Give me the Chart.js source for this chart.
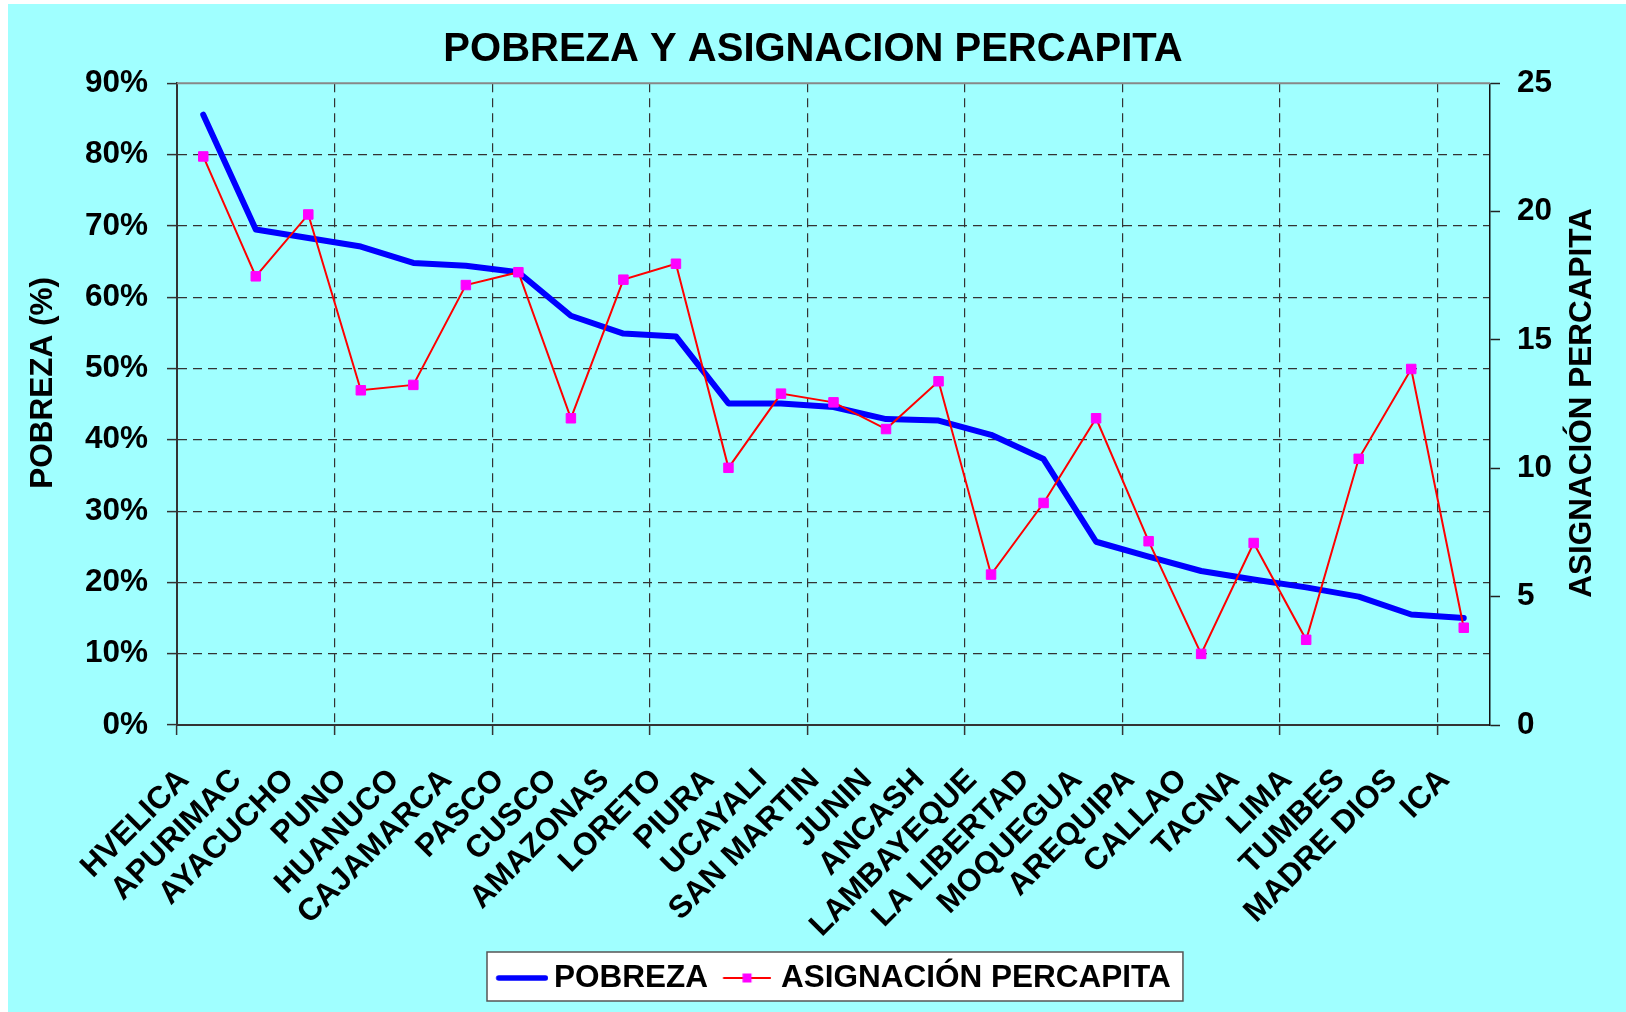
<!DOCTYPE html>
<html>
<head>
<meta charset="utf-8">
<script src="https://cdn.jsdelivr.net/npm/chart.js@4/dist/chart.umd.min.js"></script>
<style>
html,body{margin:0;padding:0;background:#fff;}
canvas{display:block;}
</style>
</head>
<body>
<canvas id="c" width="1626" height="1012"></canvas>
<script>
// ---------- DATA ----------
const categories = ['HVELICA','APURIMAC','AYACUCHO','PUNO','HUANUCO','CAJAMARCA','PASCO','CUSCO','AMAZONAS','LORETO','PIURA','UCAYALI','SAN MARTIN','JUNIN','ANCASH','LAMBAYEQUE','LA LIBERTAD','MOQUEGUA','AREQUIPA','CALLAO','TACNA','LIMA','TUMBES','MADRE DIOS','ICA'];
const pobreza = [85.6, 69.5, 68.3, 67.1, 64.8, 64.4, 63.5, 57.4, 54.9, 54.5, 45.1, 45.1, 44.6, 42.9, 42.7, 40.7, 37.3, 25.7, 23.6, 21.6, 20.4, 19.3, 18.0, 15.5, 15.0];
const asignacion = [22.15, 17.48, 19.89, 13.04, 13.25, 17.14, 17.64, 11.95, 17.35, 17.97, 10.02, 12.91, 12.57, 11.53, 13.39, 5.86, 8.65, 11.95, 7.16, 2.77, 7.09, 3.32, 10.37, 13.87, 3.79];
const seriesNames = ['POBREZA', 'ASIGNACIÓN PERCAPITA'];
const chartTitle = 'POBREZA Y ASIGNACION PERCAPITA';
const leftAxisTitle = 'POBREZA (%)';
const rightAxisTitle = 'ASIGNACIÓN PERCAPITA';
const leftAxisRange = [0, 90, 10];
const rightAxisRange = [0, 25, 5];

// ---------- STYLE ----------
const FONT = '"Liberation Sans", Arial, sans-serif';
const BG = '#A0FFFF';
const GRID = '#333';
const FS = 31.5;
const LEGEND_X = 498.25;

function makeBlueSample() {
  const c = document.createElement('canvas');
  c.width = 60; c.height = 8;
  const g = c.getContext('2d');
  g.strokeStyle = '#0000FF'; g.lineWidth = 5.5; g.lineCap = 'round';
  g.beginPath(); g.moveTo(10.5, 4); g.lineTo(57.2, 4); g.stroke();
  return c;
}
function makeMagentaSample() {
  const c = document.createElement('canvas');
  c.width = 52; c.height = 12;
  const g = c.getContext('2d');
  g.strokeStyle = '#FF0000'; g.lineWidth = 2;
  g.beginPath(); g.moveTo(3.75, 6); g.lineTo(51.75, 6); g.stroke();
  g.fillStyle = '#FF00FF';
  g.fillRect(27.75 - 4.5, 1.5, 9, 9);
  return c;
}
const sampleImgs = [makeBlueSample(), makeMagentaSample()];

const decor = {
  id: 'decor',
  afterLayout(chart) {
    const lg = chart.legend;
    if (!lg || !lg.lineWidths) return;
    const p = lg.options.labels.padding;
    const x1 = (lg.left + p + lg.right - lg.lineWidths[0]) / 2;
    const shift = LEGEND_X - x1;
    lg.left += shift; lg.right += shift;
  },
  beforeDraw(chart) {
    const ctx = chart.ctx;
    ctx.save();
    ctx.fillStyle = '#fff';
    ctx.fillRect(0, 0, chart.width, chart.height);
    ctx.fillStyle = BG;
    ctx.fillRect(8, 4, chart.width - 8, chart.height - 4);
    const lg = chart.legend;
    if (lg && lg.lineWidths) {
      const p = lg.options.labels.padding;
      const x1 = (lg.left + p + lg.right - lg.lineWidths[0]) / 2;
      const bx = x1 - 11.25;
      const bw = lg.lineWidths[0] - p + 23.5;
      ctx.fillStyle = '#fff';
      ctx.fillRect(bx, lg.top + 7, bw, 49);
      ctx.strokeStyle = '#555';
      ctx.lineWidth = 1.5;
      ctx.strokeRect(bx, lg.top + 7, bw, 49);
    }
    ctx.restore();
  },
  beforeDatasetsDraw(chart) {
    const ctx = chart.ctx, a = chart.chartArea;
    ctx.save();
    ctx.strokeStyle = '#888';
    ctx.lineWidth = 2;
    ctx.beginPath();
    ctx.moveTo(a.left, a.top); ctx.lineTo(a.right, a.top);
    ctx.stroke();
    ctx.restore();
  },
  afterDraw(chart) {
    const ctx = chart.ctx;
    ctx.save();
    ctx.fillStyle = '#000';
    ctx.font = 'bold ' + FS + 'px ' + FONT;
    ctx.textAlign = 'center';
    ctx.textBaseline = 'middle';
    ctx.translate(43, 383);
    ctx.rotate(-Math.PI / 2);
    ctx.fillText(leftAxisTitle, 0, 0);
    ctx.restore();
    ctx.save();
    ctx.fillStyle = '#000';
    ctx.font = 'bold ' + FS + 'px ' + FONT;
    ctx.textAlign = 'center';
    ctx.textBaseline = 'middle';
    ctx.translate(1582, 403);
    ctx.rotate(-Math.PI / 2);
    ctx.fillText(rightAxisTitle, 0, 0);
    ctx.restore();
  }
};

const tickFont = { family: FONT, size: FS, weight: 'bold' };

new Chart(document.getElementById('c'), {
  type: 'line',
  data: {
    labels: categories,
    datasets: [
      {
        label: seriesNames[0],
        data: pobreza,
        yAxisID: 'y',
        borderColor: '#0000FF',
        backgroundColor: '#0000FF',
        borderWidth: 6,
        borderCapStyle: 'round',
        borderJoinStyle: 'round',
        pointRadius: 0,
        pointHoverRadius: 0,
        tension: 0,
        fill: false,
        order: 1
      },
      {
        label: seriesNames[1],
        data: asignacion,
        yAxisID: 'y1',
        borderColor: '#FF0000',
        backgroundColor: '#FF00FF',
        borderWidth: 2,
        pointStyle: 'rect',
        pointRadius: 6.7,
        pointHoverRadius: 6.7,
        pointBackgroundColor: '#FF00FF',
        pointBorderColor: '#FF00FF',
        pointBorderWidth: 1,
        tension: 0,
        fill: false,
        order: 0
      }
    ]
  },
  options: {
    responsive: false,
    animation: false,
    devicePixelRatio: 1,
    events: [],
    layout: { padding: { left: 0, right: 0, top: 0, bottom: 8.25 } },
    plugins: {
      title: {
        display: true,
        text: chartTitle,
        color: '#000',
        font: { family: FONT, size: 40, weight: 'bold', lineHeight: 1.2 },
        padding: { top: 26, bottom: 9.3 }
      },
      legend: {
        display: true,
        position: 'bottom',
        labels: {
          color: '#000',
          font: { family: FONT, size: FS, weight: 'bold' },
          usePointStyle: true,
          pointStyleWidth: 40,
          padding: 17.25,
          generateLabels: () => seriesNames.map((n, i) => ({
            text: n,
            pointStyle: sampleImgs[i],
            fillStyle: 'rgba(0,0,0,0)',
            strokeStyle: 'rgba(0,0,0,0)',
            lineWidth: 0,
            hidden: false,
            datasetIndex: i,
            fontColor: '#000'
          }))
        }
      },
      tooltip: { enabled: false }
    },
    scales: {
      x: {
        type: 'category',
        offset: true,
        grid: {
          offset: true,
          drawOnChartArea: true,
          color: c => (c.index % 3 === 0 && c.index !== 0) ? GRID : 'rgba(0,0,0,0)',
          tickColor: c => (c.index % 3 === 0) ? GRID : 'rgba(0,0,0,0)',
          tickBorderDash: [],
          lineWidth: 1.2,
          tickLength: 10,
          tickWidth: 1.5
        },
        border: { display: true, color: '#333', width: 2, dash: [9, 6] },
        ticks: {
          autoSkip: false,
          minRotation: 45,
          maxRotation: 45,
          labelOffset: -19,
          padding: 26.6,
          color: '#000',
          font: tickFont
        },
        afterFit: s => { s.height = 220; }
      },
      y: {
        type: 'linear',
        position: 'left',
        min: leftAxisRange[0],
        max: leftAxisRange[1],
        ticks: {
          stepSize: leftAxisRange[2],
          padding: 19,
          color: '#000',
          font: tickFont,
          callback: v => v + '%'
        },
        grid: {
          color: c => (c.tick && (c.tick.value === leftAxisRange[0] || c.tick.value === leftAxisRange[1])) ? 'rgba(0,0,0,0)' : GRID,
          tickColor: '#333',
          tickBorderDash: [],
          lineWidth: 1.2,
          tickLength: 10,
          tickWidth: 1.5
        },
        border: { display: true, color: '#333', width: 2, dash: [9, 6] },
        afterFit: s => { s.width = 177; }
      },
      y1: {
        type: 'linear',
        position: 'right',
        min: rightAxisRange[0],
        max: rightAxisRange[1],
        ticks: {
          stepSize: rightAxisRange[2],
          padding: 17,
          color: '#000',
          font: tickFont
        },
        grid: {
          drawOnChartArea: false,
          tickColor: '#222',
          tickLength: 10,
          tickWidth: 1.5
        },
        border: { display: true, color: '#111', width: 1.5 },
        afterFit: s => { s.width = 136; }
      }
    }
  },
  plugins: [decor]
});
</script>
</body>
</html>
